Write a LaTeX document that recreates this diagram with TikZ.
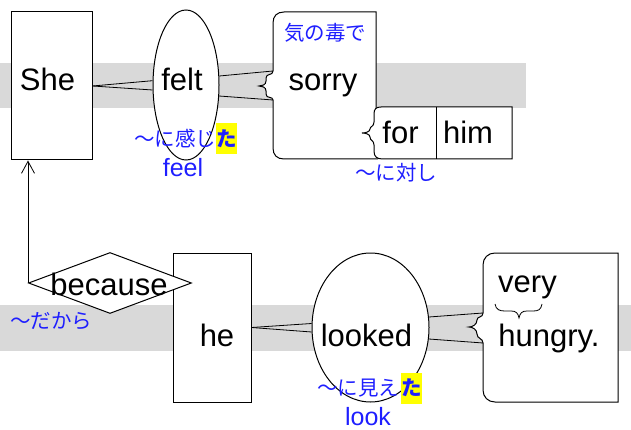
\documentclass[tikz,border=0pt]{standalone}
\usepackage{fontspec}
\setmainfont{Liberation Sans}
\newfontfamily\jp{Noto Sans CJK JP}
\usetikzlibrary{shapes.geometric,arrows.meta,calc}
\definecolor{band}{RGB}{217,217,217}
\definecolor{jblue}{RGB}{30,30,255}
\definecolor{hl}{RGB}{255,255,0}
\begin{document}
\begin{tikzpicture}[x=1pt,y=-1pt,
 conn/.style={draw=black, line width=0.8pt},
 shapebox/.style={draw=black, fill=white, line width=1pt},
 word/.style={font=\fontsize{31}{37}\selectfont, inner sep=0pt, anchor=base},
 jgloss/.style={font=\jp\fontsize{20.5}{24}\selectfont, text=jblue, inner sep=0pt},
 egloss/.style={font=\fontsize{25}{30}\selectfont, text=jblue, inner sep=0pt, anchor=base},
 hilite/.style={fill=hl, font=\jp\bfseries\fontsize{20.5}{24}\selectfont, text=jblue, inner sep=0pt, minimum width=21pt, minimum height=31pt},
]
\useasboundingbox (0,0) rectangle (631,430);
\fill[band] (0,63) rectangle (526,108);
\fill[band] (0,305) rectangle (631,351);

% top sentence
\node[shapebox, minimum width=81pt, minimum height=148pt, inner sep=0pt] (she) at (51.5,86) {};
\node[shapebox, ellipse, minimum width=66pt, minimum height=150pt, inner sep=0pt] (felt) at (186,85) {};

\coordinate (sorryA) at (273,71);
\coordinate (sorryB) at (273,100);
\draw[shapebox] (376,112) -- (376,12) -- (284,12) .. controls (277,12) and (273,16) .. (273,23) -- (sorryA)
  .. controls (273,76) and (266,73) .. (266,78) -- (266,81)
  .. controls (266,85) and (262,86) .. (259,86)
  .. controls (262,86) and (266,87) .. (266,91) -- (266,94)
  .. controls (266,99) and (273,96) .. (sorryB)
  -- (273,148) .. controls (273,155) and (277,159) .. (284,159) -- (378,159);

\draw[shapebox] (512,107) -- (381,107) .. controls (376,107) and (374,109) .. (374,114) -- (374,122)
  .. controls (374,127) and (370,126) .. (370,129)
  .. controls (370,132) and (365,133) .. (362,133)
  .. controls (365,133) and (370,134) .. (370,137)
  .. controls (370,141) and (374,140) .. (374,145) -- (374,151)
  .. controls (374,157) and (377,159) .. (383,159) -- (512,159) -- cycle;
\coordinate (divT) at (436,107);
\coordinate (divB) at (436,159);
\draw[shapebox] (divT) -- (divB);

\draw[conn] (she.east) -- ($(felt.west)+(0,-4.3)$);
\draw[conn] (she.east) -- ($(felt.west)+(0,5)$);
\draw[conn] ($(felt.east)+(-0.2,-9)$) -- (sorryA);
\draw[conn] ($(felt.east)+(-0.4,11)$) -- (sorryB);

\node[word] (sheT) at (47.5,91) {She};
\node[word] (feltT) at (182,91) {felt};
\node[word] (sorryT) at (323,91) {sorry};
\node[word] (forT) at (400.5,144) {for};
\node[word] (himT) at (468,144) {him};

% bottom sentence
\node[shapebox, minimum width=78pt, minimum height=149pt, inner sep=0pt] (he) at (212,327.5) {};
\node[shapebox, diamond, minimum width=163pt, minimum height=61pt, inner sep=0pt] (because) at (110,283) {};
\node[shapebox, ellipse, minimum width=117pt, minimum height=149pt, inner sep=0pt] (looked) at (370.5,327.5) {};

\coordinate (vhA) at (483,313);
\coordinate (vhB) at (483,343);
\draw[shapebox] (618,253) -- (495,253) .. controls (488,253) and (483,258) .. (483,265) -- (vhA)
  .. controls (483,318) and (477,316) .. (477,320)
  .. controls (477,325) and (472,327) .. (469,327)
  .. controls (472,327) and (477,329) .. (477,334)
  .. controls (477,339) and (483,338) .. (vhB)
  -- (483,390) .. controls (483,397) and (488,402) .. (495,402) -- (618,402) -- cycle;

\draw[conn] (he.east) -- ($(looked.west)+(0.1,-4)$);
\draw[conn] (he.east) -- ($(looked.west)+(0.1,4.5)$);
\draw[conn] ($(looked.east)+(-0.6,-10.5)$) -- (vhA);
\draw[conn] ($(looked.east)+(-0.6,11.5)$) -- (vhB);

\draw[conn, -{Straight Barb[length=12pt,width=13pt]}] (because.west) -- (because.west |- she.south);

\draw[conn] (495,304) .. controls (496,310) and (500,311) .. (505,311) -- (511,311)
  .. controls (516,311) and (518,313) .. (519,318)
  .. controls (520,313) and (522,311) .. (527,311) -- (533,311)
  .. controls (538,311) and (541,310) .. (542,304);

\node[word] (becauseT) at (109,295) {because};
\node[word] (heT) at (217,346) {he};
\node[word] (lookedT) at (366.5,346) {looked};
\node[word] (veryT) at (527.5,292) {very};
\node[word] (hungryT) at (549,346) {hungry.};

% glosses
\node[jgloss, anchor=west] (g1) at (134,139) {～に感じ};
\node[hilite] (g1ta) at (226.5,138.5) {た};
\node[egloss] (g1e) at (183,177) {feel};
\node[jgloss] (g2) at (325,33) {気の毒で};
\node[jgloss] (g3) at (396,173) {～に対し};
\node[jgloss] (g4) at (51,321) {～だから};
\node[jgloss, anchor=west] (g5) at (317,388) {～に見え};
\node[hilite] (g5ta) at (411.5,388) {た};
\node[egloss] (g5e) at (368,425) {look};
\end{tikzpicture}
\end{document}
